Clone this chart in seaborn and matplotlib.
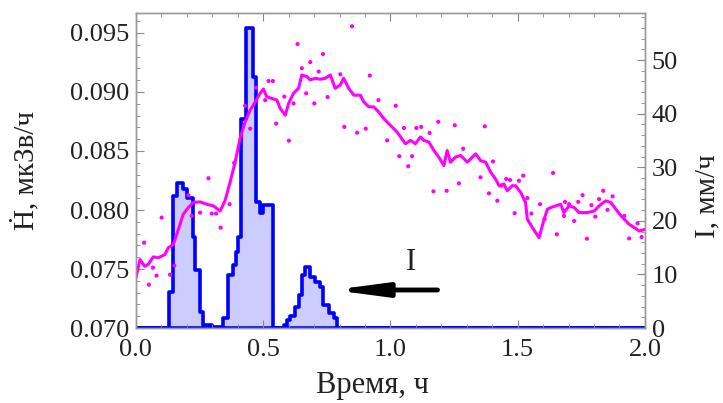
import numpy as np
import seaborn as sns
import matplotlib.pyplot as plt
from matplotlib.ticker import MultipleLocator, FormatStrFormatter

# rain intensity I, mm/h (step histogram, right axis): left edge of each step and its value
rain_t = [0.130, 0.147, 0.163, 0.186, 0.200, 0.223, 0.233, 0.250, 0.263, 0.300,
          0.343, 0.360, 0.380, 0.393, 0.403, 0.413, 0.433, 0.460, 0.473, 0.487,
          0.500, 0.580, 0.593, 0.606, 0.626, 0.639, 0.652, 0.665, 0.685, 0.705,
          0.724, 0.737, 0.757, 0.777]
rain_i = [6.8, 24.6, 27.0, 26.0, 24.2, 17.0, 10.8, 3.0, 0.6, 0.2,
          1.9, 9.9, 11.8, 14.2, 17.0, 39.0, 56.0, 46.8, 23.5, 21.5,
          23.0, 0.6, 1.5, 2.3, 4.0, 6.2, 9.9, 11.4, 9.6, 8.6,
          7.7, 4.3, 2.8, 1.9]
rain_end = [0.540, 0.790]  # where the two rain episodes drop back to zero

# smoothed dose rate H, uSv/h (left axis)
t_line = [0.000, 0.016, 0.035, 0.048, 0.068, 0.088, 0.114, 0.127, 0.147, 0.167,
          0.186, 0.206, 0.226, 0.252, 0.278, 0.304, 0.331, 0.350, 0.370, 0.390,
          0.409, 0.429, 0.449, 0.469, 0.488, 0.501, 0.514, 0.534, 0.554, 0.567,
          0.587, 0.600, 0.619, 0.639, 0.652, 0.672, 0.685, 0.705, 0.724, 0.744,
          0.764, 0.783, 0.803, 0.816, 0.836, 0.856, 0.882, 0.895, 0.915, 0.934,
          0.954, 0.974, 0.993, 1.013, 1.026, 1.059, 1.079, 1.098, 1.118, 1.131,
          1.151, 1.171, 1.190, 1.210, 1.223, 1.236, 1.256, 1.276, 1.302, 1.322,
          1.335, 1.354, 1.374, 1.394, 1.413, 1.427, 1.446, 1.459, 1.479, 1.492,
          1.512, 1.531, 1.538, 1.558, 1.584, 1.604, 1.617, 1.630, 1.650, 1.669,
          1.682, 1.702, 1.722, 1.741, 1.774, 1.801, 1.820, 1.846, 1.866, 1.886,
          1.906, 1.919, 1.938, 1.958, 1.978, 2.000]
h_line = [0.07424, 0.07580, 0.07523, 0.07538, 0.07603, 0.07595, 0.07623, 0.07680, 0.07708, 0.07836,
          0.07964, 0.08021, 0.08064, 0.08069, 0.08049, 0.08035, 0.07992, 0.08078, 0.08235, 0.08405,
          0.08604, 0.08747, 0.08846, 0.08917, 0.08988, 0.09025, 0.08960, 0.08945, 0.08931, 0.08860,
          0.08803, 0.08903, 0.08988, 0.09031, 0.09144, 0.09130, 0.09102, 0.09116, 0.09108, 0.09116,
          0.09144, 0.09031, 0.09059, 0.09116, 0.09031, 0.08973, 0.08973, 0.08917, 0.08874, 0.08874,
          0.08831, 0.08775, 0.08732, 0.08689, 0.08661, 0.08561, 0.08590, 0.08561, 0.08618, 0.08590,
          0.08576, 0.08504, 0.08448, 0.08376, 0.08504, 0.08405, 0.08448, 0.08462, 0.08405, 0.08448,
          0.08476, 0.08419, 0.08405, 0.08320, 0.08263, 0.08206, 0.08220, 0.08163, 0.08206, 0.08206,
          0.08149, 0.08064, 0.07922, 0.07851, 0.07765, 0.07922, 0.08007, 0.08021, 0.08035, 0.08049,
          0.07978, 0.08035, 0.08021, 0.07978, 0.07978, 0.07992, 0.08035, 0.08078, 0.08064, 0.08007,
          0.07950, 0.07922, 0.07879, 0.07851, 0.07822, 0.07836]

# raw dose rate measurements
t_dots = [0.032, 0.051, 0.067, 0.081, 0.101, 0.134, 0.151, 0.206, 0.219, 0.252,
          0.285, 0.298, 0.315, 0.333, 0.368, 0.386, 0.429, 0.449, 0.472, 0.508,
          0.521, 0.538, 0.551, 0.583, 0.601, 0.619, 0.635, 0.652, 0.669, 0.685,
          0.701, 0.718, 0.735, 0.753, 0.803, 0.819, 0.849, 0.869, 0.903, 0.919,
          0.953, 0.987, 1.021, 1.035, 1.053, 1.070, 1.085, 1.102, 1.121, 1.154,
          1.169, 1.188, 1.221, 1.253, 1.269, 1.286, 1.354, 1.371, 1.387, 1.403,
          1.420, 1.436, 1.455, 1.470, 1.488, 1.505, 1.522, 1.538, 1.554, 1.588,
          1.606, 1.639, 1.654, 1.682, 1.686, 1.702, 1.722, 1.738, 1.755, 1.772,
          1.790, 1.805, 1.820, 1.836, 1.853, 1.873, 1.919, 1.938, 1.971, 1.987]
h_dots = [0.07723, 0.07367, 0.07512, 0.07444, 0.07936, 0.07452, 0.07529, 0.08126, 0.07950, 0.07978,
          0.08269, 0.07970, 0.07970, 0.07851, 0.08049, 0.08399, 0.08883, 0.08689, 0.09037, 0.08931,
          0.09093, 0.09093, 0.08732, 0.08960, 0.08587, 0.08903, 0.09406, 0.09201, 0.08988, 0.09253,
          0.08903, 0.09173, 0.09321, 0.08957, 0.09150, 0.08704, 0.09557, 0.08655, 0.08689, 0.09139,
          0.08931, 0.08590, 0.08883, 0.08456, 0.08695, 0.08371, 0.08456, 0.08695, 0.08704, 0.08653,
          0.08158, 0.08747, 0.08163, 0.08718, 0.08226, 0.08519, 0.08277, 0.08709, 0.08141, 0.08411,
          0.08078, 0.08206, 0.08263, 0.08254, 0.07973, 0.08248, 0.08291, 0.08101, 0.07970, 0.08049,
          0.07922, 0.08314, 0.07794, 0.07950, 0.08069, 0.08049, 0.07907, 0.08069, 0.08126, 0.07757,
          0.08041, 0.07944, 0.08092, 0.08163, 0.08001, 0.08115, 0.07950, 0.07759, 0.07887, 0.07771]

sns.set_style('white')
plt.rcParams['font.family'] = ['Liberation Serif', 'DejaVu Serif']

fig, ax = plt.subplots(figsize=(7.23, 4.03), dpi=100)
fig.subplots_adjust(left=0.188, right=0.892, bottom=0.186, top=0.968)
ax2 = ax.twinx()

# histogram bins: the step edges plus zero stretches out to 0 and 2 h
edges = np.unique(np.concatenate([[0.0, 2.0], rain_t, rain_end])).tolist()
sns.histplot(x=rain_t, weights=rain_i, bins=edges, element='step', fill=True,
             color='#0000ff', alpha=0.2, linewidth=2.6, ax=ax2)

sns.scatterplot(x=t_dots, y=h_dots, color='#ff00ff', s=9, edgecolor='none', ax=ax)
sns.lineplot(x=t_line, y=h_line, color='#ff00ff', linewidth=2.2, ax=ax)

ax.set_zorder(ax2.get_zorder() + 1)
ax.patch.set_visible(False)

ax.set_xlim(0, 2.0)
ax.set_ylim(0.070, 0.0967)
ax2.set_ylim(0, 58.8)

ax.xaxis.set_major_locator(MultipleLocator(0.5))
ax.xaxis.set_minor_locator(MultipleLocator(0.1))
ax.xaxis.set_major_formatter(FormatStrFormatter('%.1f'))
ax.yaxis.set_major_locator(MultipleLocator(0.005))
ax.yaxis.set_minor_locator(MultipleLocator(0.001))
ax.yaxis.set_major_formatter(FormatStrFormatter('%.3f'))
ax2.yaxis.set_major_locator(MultipleLocator(10))
ax2.yaxis.set_minor_locator(MultipleLocator(2))

ax.tick_params(axis='x', which='both', direction='in', top=True, bottom=True,
               labelsize=19, pad=8, color='#888888', labelcolor='#222222')
ax.tick_params(axis='y', which='both', direction='in', left=True, right=False,
               labelsize=19, pad=5, color='#888888', labelcolor='#222222')
ax2.tick_params(axis='y', which='both', direction='in', right=True, left=False,
                labelsize=19, pad=5, color='#888888', labelcolor='#222222')
for a in (ax, ax2):
    a.tick_params(which='major', length=6, width=0.8)
    a.tick_params(which='minor', length=3, width=0.6)
    for s in a.spines.values():
        s.set_color('#999999')
        s.set_linewidth(1.0)

ax.set_xlabel('Время, ч', fontsize=22, color='#222222')
ax.set_ylabel('Ḣ, мкЗв/ч', fontsize=21, color='#222222')
ax2.set_ylabel('I, мм/ч', fontsize=21, color='#222222')
ax.xaxis.set_label_coords(0.464, -0.135)
ax.yaxis.set_label_coords(-0.19, 0.5)
ax2.yaxis.set_label_coords(1.097, 0.42)

ax2.annotate('', xy=(0.775, 7.1), xytext=(1.185, 7.1),
             arrowprops=dict(arrowstyle='-|>,head_length=3.0,head_width=0.4',
                             lw=3.5, color='black', shrinkA=0, shrinkB=0))
ax2.text(1.079, 12.3, 'I', fontsize=22, ha='center', va='center', color='#222222')

fig.savefig('out.png', dpi=100)
